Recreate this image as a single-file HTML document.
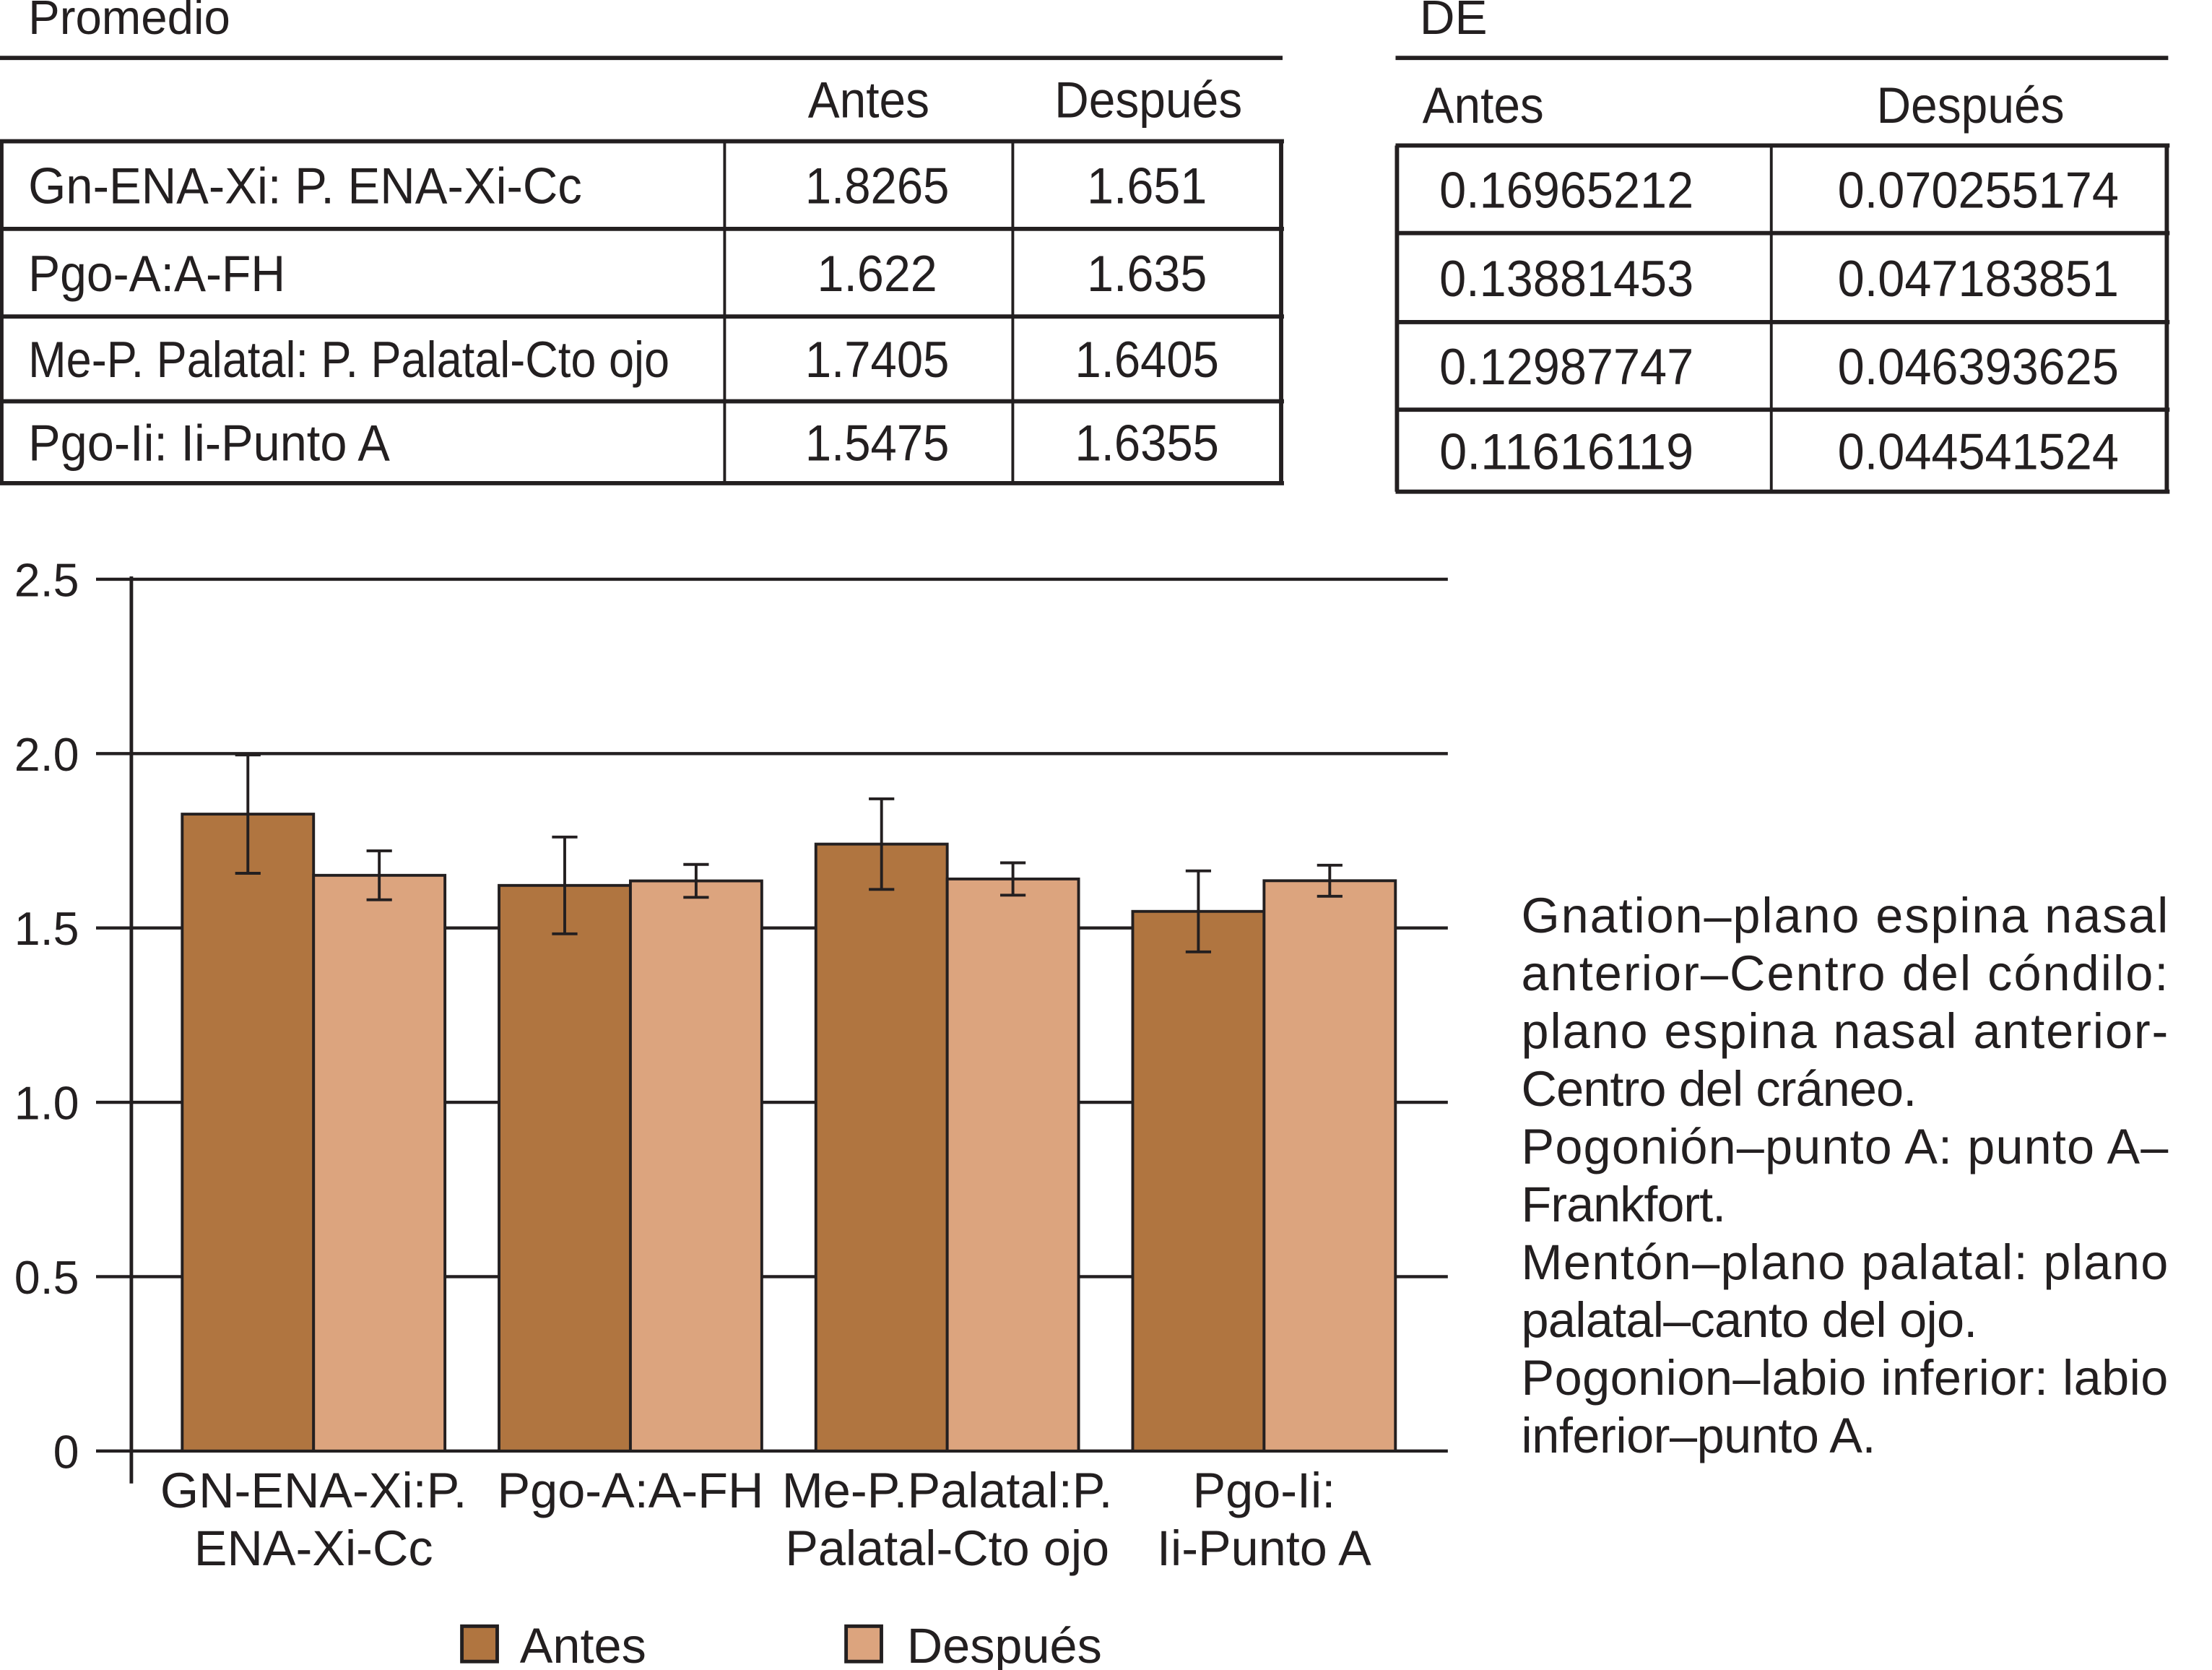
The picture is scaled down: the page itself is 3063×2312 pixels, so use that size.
<!DOCTYPE html>
<html><head><meta charset="utf-8"><style>
html,body{margin:0;padding:0;background:#fff;}
svg{display:block;}
text{font-family:"Liberation Sans",Arial,sans-serif;fill:#231f20;}
</style></head><body>
<svg id="fig" width="3063" height="2312" viewBox="0 0 1566 1182" preserveAspectRatio="none">
<g id="tables"></g>
<g id="chart"></g>
<g id="note"></g>
</svg>
<script>
const categories = ["GN-ENA-Xi:P.|ENA-Xi-Cc","Pgo-A:A-FH","Me-P.Palatal:P.|Palatal-Cto ojo","Pgo-Ii:|Ii-Punto A"];
const antes = [1.8265, 1.622, 1.7405, 1.5475];
const despues = [1.651, 1.635, 1.6405, 1.6355];
const sdAntes = [0.16965212, 0.13881453, 0.12987747, 0.11616119];
const sdDespues = [0.070255174, 0.047183851, 0.046393625, 0.044541524];
const rowLabels = ["Gn-ENA-Xi: P. ENA-Xi-Cc","Pgo-A:A-FH","Me-P. Palatal: P. Palatal-Cto ojo","Pgo-Ii: Ii-Punto A"];
const meanAntesText = ["1.8265","1.622","1.7405","1.5475"];
const meanDespText = ["1.651","1.635","1.6405","1.6355"];
const sdAntesText = ["0.16965212","0.13881453","0.12987747","0.11616119"];
const sdDespText = ["0.070255174","0.047183851","0.046393625","0.044541524"];
const yTicks = [0, 0.5, 1.0, 1.5, 2.0, 2.5];
const yTickLabels = ["0","0.5","1.0","1.5","2.0","2.5"];
const noteLines = ["Gnation–plano espina nasal","anterior–Centro del cóndilo:","plano espina nasal anterior-","Centro del cráneo.","Pogonión–punto A: punto A–","Frankfort.","Mentón–plano palatal: plano","palatal–canto del ojo.","Pogonion–labio inferior: labio","inferior–punto A."];

const NS="http://www.w3.org/2000/svg";
function mk(parent,tag,attrs,txt){const e=document.createElementNS(NS,tag);for(const k in attrs)e.setAttribute(k,attrs[k]);if(txt!==undefined)e.textContent=txt;parent.appendChild(e);return e;}
const INK="#231f20";
const T=document.getElementById('tables');
let e;
e=mk(T,'text',{x:20,y:24,'font-size':34,textLength:143,lengthAdjust:'spacingAndGlyphs'},"Promedio");


e=mk(T,'text',{x:1005,y:24,'font-size':34,textLength:48,lengthAdjust:'spacingAndGlyphs'},"DE");


mk(T,'line',{x1:0,y1:41,x2:908,y2:41,stroke:INK,'stroke-width':3});
mk(T,'line',{x1:988,y1:41,x2:1535,y2:41,stroke:INK,'stroke-width':3});
e=mk(T,'text',{x:615,y:83,'font-size':36,'text-anchor':'middle',textLength:86,lengthAdjust:'spacingAndGlyphs'},"Antes");


e=mk(T,'text',{x:813,y:83,'font-size':36,'text-anchor':'middle',textLength:133,lengthAdjust:'spacingAndGlyphs'},"Después");


e=mk(T,'text',{x:1050,y:87,'font-size':36,'text-anchor':'middle',textLength:86,lengthAdjust:'spacingAndGlyphs'},"Antes");


e=mk(T,'text',{x:1395,y:87,'font-size':36,'text-anchor':'middle',textLength:133,lengthAdjust:'spacingAndGlyphs'},"Después");


const lRows=[100,162,224,284,342];
lRows.forEach(y=>mk(T,'line',{x1:0,y1:y,x2:909,y2:y,stroke:INK,'stroke-width':3}));
[1,513,717,907].forEach((x,i)=>mk(T,'line',{x1:x,y1:100,x2:x,y2:342,stroke:INK,'stroke-width':(i==1||i==2)?2:3}));
const labW=[392,182,454,256];
for(let i=0;i<4;i++){
  const cy=(lRows[i]+lRows[i+1])/2+13;
  e=mk(T,'text',{x:20,y:cy,'font-size':36,textLength:labW[i],lengthAdjust:'spacingAndGlyphs'},rowLabels[i]);
  
  
  e=mk(T,'text',{x:621,y:cy,'font-size':36,'text-anchor':'middle',textLength:meanAntesText[i].length*17,lengthAdjust:'spacingAndGlyphs'},meanAntesText[i]);
  
  
  e=mk(T,'text',{x:812,y:cy,'font-size':36,'text-anchor':'middle',textLength:meanDespText[i].length*17,lengthAdjust:'spacingAndGlyphs'},meanDespText[i]);
  
  
}
const rRows=[103,165,228,290,348];
rRows.forEach(y=>mk(T,'line',{x1:988,y1:y,x2:1536,y2:y,stroke:INK,'stroke-width':3}));
[989,1254,1534].forEach((x,i)=>mk(T,'line',{x1:x,y1:103,x2:x,y2:348,stroke:INK,'stroke-width':i==1?2:3}));
for(let i=0;i<4;i++){
  const cy=(rRows[i]+rRows[i+1])/2+13;
  e=mk(T,'text',{x:1019,y:cy,'font-size':36,textLength:180,lengthAdjust:'spacingAndGlyphs'},sdAntesText[i]);
  
  
  e=mk(T,'text',{x:1301,y:cy,'font-size':36,textLength:199,lengthAdjust:'spacingAndGlyphs'},sdDespText[i]);
  
  
}
const C=document.getElementById('chart');
const y0=1027, yPer=(1027-410)/2.5;
const yS=v=>y0-v*yPer;
const axX=93, plotR=1025, grp0=222, grpStep=224.3, bw=93;
const xC=i=>grp0+i*grpStep;
yTicks.forEach((t,i)=>{
  e=mk(C,'line',{x1:68,y1:yS(t),x2:plotR,y2:yS(t),stroke:INK,'stroke-width':2.2});
  
  
  e=mk(C,'text',{x:56,y:yS(t)+12,'font-size':33,'text-anchor':'end'},yTickLabels[i]);
  
  
});
e=mk(C,'line',{x1:axX,y1:408,x2:axX,y2:1050,stroke:INK,'stroke-width':2.5});


const colA="#b07540", colD="#dca47e";
function errBar(cx,v,sd){
  const g=mk(C,'g',{});
  
  
  mk(g,'line',{x1:cx,y1:yS(v+sd),x2:cx,y2:yS(v-sd),stroke:INK,'stroke-width':2});
  mk(g,'line',{x1:cx-9,y1:yS(v+sd),x2:cx+9,y2:yS(v+sd),stroke:INK,'stroke-width':2});
  mk(g,'line',{x1:cx-9,y1:yS(v-sd),x2:cx+9,y2:yS(v-sd),stroke:INK,'stroke-width':2});
}
for(let i=0;i<categories.length;i++){
  const c=xC(i);
  e=mk(C,'rect',{x:c-bw,y:yS(antes[i]),width:bw,height:y0-yS(antes[i]),fill:colA,stroke:INK,'stroke-width':2});
  
  
  e=mk(C,'rect',{x:c,y:yS(despues[i]),width:bw,height:y0-yS(despues[i]),fill:colD,stroke:INK,'stroke-width':2});
  
  
  errBar(c-bw/2,antes[i],sdAntes[i]);
  errBar(c+bw/2,despues[i],sdDespues[i]);
  const parts=categories[i].split('|');
  parts.forEach((p,j)=>{
    e=mk(C,'text',{x:c,y:1067+j*41,'font-size':35,'text-anchor':'middle'},p);
    
    
  });
}
const lg=mk(C,'g',{});


e=mk(lg,'rect',{x:327,y:1151,width:25,height:25,fill:colA,stroke:INK,'stroke-width':2.5});


e=mk(lg,'text',{x:368,y:1177,'font-size':35},"Antes");


e=mk(lg,'rect',{x:599,y:1151,width:25,height:25,fill:colD,stroke:INK,'stroke-width':2.5});


e=mk(lg,'text',{x:642,y:1177,'font-size':35},"Después");


const N=document.getElementById('note');
const noteW=[458,458,458,280,458,145,458,323,458,251];
noteLines.forEach((l,i)=>{
  e=mk(N,'text',{x:1077,y:660+i*40.9,'font-size':35,textLength:noteW[i],lengthAdjust:'spacing'},l);
  
  
});
</script>
</body></html>
